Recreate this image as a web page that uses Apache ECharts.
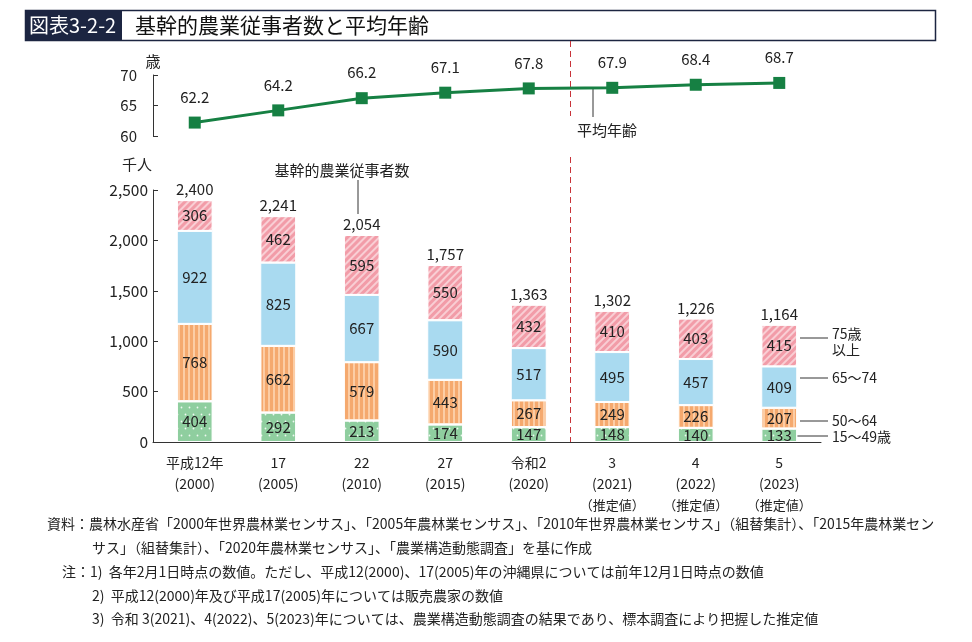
<!DOCTYPE html>
<html><head><meta charset="utf-8">
<script src="https://cdn.jsdelivr.net/npm/echarts@6/dist/echarts.min.js"></script>
<style>html,body{margin:0;padding:0;background:#fff}#c{width:972px;height:642px}</style>
</head><body><div id="c"></div>
<script>
const categories = ['平成12年','17','22','27','令和2','3','4','5'];
const years = ['(2000)','(2005)','(2010)','(2015)','(2020)','(2021)','(2022)','(2023)'];
const estimated = [false,false,false,false,false,true,true,true];
const avgAge = [62.2,64.2,66.2,67.1,67.8,67.9,68.4,68.7];
const age15_49 = [404,292,213,174,147,148,140,133];
const age50_64 = [768,662,579,443,267,249,226,207];
const age65_74 = [922,825,667,590,517,495,457,409];
const age75up = [306,462,595,550,432,410,403,415];
const totals = [2400,2241,2054,1757,1363,1302,1226,1164];

const FONT = '"Noto Sans CJK JP", "Noto Sans", sans-serif';
const TXT = '#222';
const chart = echarts.init(document.getElementById('c'));

function segLabel(){ return {show:true, position:'inside', fontSize:15, color:TXT, fontFamily:FONT}; }

const option = {
  animation:false,
  textStyle:{fontFamily:FONT, color:TXT},
  grid:[
    {left:153, width:668, top:75, height:61},
    {left:153, width:668, top:190, height:252}
  ],
  xAxis:[
    {type:'category', gridIndex:0, data:categories, show:false, boundaryGap:true},
    {type:'category', gridIndex:1, data:categories, boundaryGap:true,
     axisLine:{lineStyle:{color:'#333', width:1}}, axisTick:{show:false},
     axisLabel:{margin:10, interval:0, formatter:function(v,i){
        let s = '{a|'+v+'}\n{a|'+years[i]+'}';
        if (estimated[i]) s += '\n{b|（推定値）}';
        return s;
     }, rich:{a:{fontSize:14, lineHeight:21, color:TXT, fontFamily:FONT}, b:{fontSize:13, lineHeight:23, color:TXT, fontFamily:FONT}}}}
  ],
  yAxis:[
    {type:'value', gridIndex:0, min:60, max:70, interval:5,
     axisLine:{show:true, lineStyle:{color:'#333'}}, axisTick:{show:true, inside:true, length:5, lineStyle:{color:'#333'}},
     splitLine:{show:false}, axisLabel:{fontSize:15, color:TXT, margin:16}},
    {type:'value', gridIndex:1, min:0, max:2500, interval:500,
     axisLine:{show:true, lineStyle:{color:'#333'}}, axisTick:{show:true, inside:true, length:5, lineStyle:{color:'#333'}},
     splitLine:{show:false}, axisLabel:{fontSize:15.5, color:TXT, margin:5, formatter:function(v){return v.toLocaleString('en-US');}}}
  ],
  series:[
    {type:'line', xAxisIndex:0, yAxisIndex:0, data:avgAge, symbol:'rect', symbolSize:12,
     lineStyle:{color:'#168043', width:3}, itemStyle:{color:'#168043'},
     label:{show:true, position:'top', distance:12, fontSize:15, color:TXT, formatter:function(p){return p.value.toFixed(1);}}},
    {name:'15～49歳', type:'bar', stack:'t', xAxisIndex:1, yAxisIndex:1, data:age15_49, barWidth:36,
     itemStyle:{color:'#8fce9f', borderColor:'#fff', borderWidth:1,
       decal:{symbol:'circle', symbolSize:0.6, dashArrayX:[[3,5],[0,4,3,1]], dashArrayY:[3,4], color:'rgba(255,255,255,0.85)'}},
     label:segLabel()},
    {name:'50～64', type:'bar', stack:'t', xAxisIndex:1, yAxisIndex:1, data:age50_64, barWidth:36,
     itemStyle:{color:'#f5a96e', borderColor:'#fff', borderWidth:1,
       decal:{symbol:'rect', symbolSize:1, dashArrayX:[1,0], dashArrayY:[2,3], rotation:Math.PI/2, color:'rgba(255,225,195,0.65)'}},
     label:segLabel()},
    {name:'65～74', type:'bar', stack:'t', xAxisIndex:1, yAxisIndex:1, data:age65_74, barWidth:36,
     itemStyle:{color:'#a9daf0', borderColor:'#fff', borderWidth:1},
     label:segLabel()},
    {name:'75歳以上', type:'bar', stack:'t', xAxisIndex:1, yAxisIndex:1, data:age75up, barWidth:36,
     itemStyle:{color:'#f29ca8', borderColor:'#fff', borderWidth:1,
       decal:{symbol:'rect', symbolSize:1, dashArrayX:[1,0], dashArrayY:[2,3], rotation:-Math.PI/4, color:'rgba(255,255,255,0.5)'}},
     label:segLabel()},
    {name:'total', type:'bar', stack:'t', xAxisIndex:1, yAxisIndex:1, data:totals.map(function(){return 0;}), barWidth:36,
     itemStyle:{color:'rgba(0,0,0,0)'},
     label:{show:true, position:'top', distance:3, fontSize:15, color:TXT, formatter:function(p){return totals[p.dataIndex].toLocaleString('en-US');}}}
  ]
};
chart.setOption(option);

// layout overlays
const x4 = chart.convertToPixel({xAxisIndex:1}, 4);
const x5 = chart.convertToPixel({xAxisIndex:1}, 5);
const xs = (x4 + x5) / 2;
const yBase = chart.convertToPixel({yAxisIndex:1}, 0);
const red = '#c8333a';
const lineC = '#333';
const g = [
  {type:'rect', shape:{x:25.5, y:10.5, width:910, height:30}, style:{fill:'none', stroke:'#1c2541', lineWidth:1.5}},
  {type:'rect', shape:{x:25, y:10, width:97, height:31}, style:{fill:'#1c2541'}},
  {type:'text', x:29, y:25, style:{text:'図表3-2-2', fill:'#fff', font:'20px '+FONT, textVerticalAlign:'middle'}},
  {type:'text', x:135, y:25, style:{text:'基幹的農業従事者数と平均年齢', fill:'#111', font:'21px '+FONT, textVerticalAlign:'middle'}},
  {type:'line', shape:{x1:xs, y1:41, x2:xs, y2:116}, style:{stroke:red, lineWidth:1, lineDash:[6,4]}},
  {type:'line', shape:{x1:xs, y1:157, x2:xs, y2:yBase}, style:{stroke:red, lineWidth:1, lineDash:[6,4]}},
  {type:'text', x:153, y:61, style:{text:'歳', fill:TXT, font:'15px '+FONT, textAlign:'center', textVerticalAlign:'middle'}},
  {type:'text', x:137, y:164, style:{text:'千人', fill:TXT, font:'15px '+FONT, textAlign:'center', textVerticalAlign:'middle'}},
  {type:'text', x:342, y:170, style:{text:'基幹的農業従事者数', fill:TXT, font:'15px '+FONT, textAlign:'center', textVerticalAlign:'middle'}},
  {type:'line', shape:{x1:358, y1:180, x2:358, y2:214}, style:{stroke:lineC, lineWidth:1}},
  {type:'text', x:577, y:130, style:{text:'平均年齢', fill:TXT, font:'15px '+FONT, textVerticalAlign:'middle'}},
  {type:'line', shape:{x1:593, y1:89, x2:593, y2:117}, style:{stroke:lineC, lineWidth:1}},
  {type:'line', shape:{x1:800, y1:338, x2:828, y2:338}, style:{stroke:lineC, lineWidth:1}},
  {type:'text', x:832, y:334, style:{text:'75歳', fill:TXT, font:'14px '+FONT, textVerticalAlign:'middle'}},
  {type:'text', x:832, y:350, style:{text:'以上', fill:TXT, font:'14px '+FONT, textVerticalAlign:'middle'}},
  {type:'line', shape:{x1:800, y1:378, x2:828, y2:378}, style:{stroke:lineC, lineWidth:1}},
  {type:'text', x:832, y:378, style:{text:'65～74', fill:TXT, font:'14px '+FONT, textVerticalAlign:'middle'}},
  {type:'line', shape:{x1:800, y1:421, x2:828, y2:421}, style:{stroke:lineC, lineWidth:1}},
  {type:'text', x:832, y:421, style:{text:'50～64', fill:TXT, font:'14px '+FONT, textVerticalAlign:'middle'}},
  {type:'line', shape:{x1:797, y1:436, x2:828, y2:436}, style:{stroke:lineC, lineWidth:1}},
  {type:'text', x:832, y:437, style:{text:'15～49歳', fill:TXT, font:'14px '+FONT, textVerticalAlign:'middle'}}
];
const notes = [
  [47, 524, '資料：農林水産省「2000年世界農林業センサス」、「2005年農林業センサス」、「2010年世界農林業センサス」（組替集計）、「2015年農林業セン'],
  [92, 548, 'サス」（組替集計）、「2020年農林業センサス」、「農業構造動態調査」を基に作成'],
  [62, 572, '注：1)  各年2月1日時点の数値。ただし、平成12(2000)、17(2005)年の沖縄県については前年12月1日時点の数値'],
  [92, 596, '2)  平成12(2000)年及び平成17(2005)年については販売農家の数値'],
  [92, 619, '3)  令和 3(2021)、4(2022)、5(2023)年については、農業構造動態調査の結果であり、標本調査により把握した推定値']
];
notes.forEach(function(n){
  g.push({type:'text', x:n[0], y:n[1], style:{text:n[2], fill:TXT, font:'14px '+FONT, textVerticalAlign:'middle'}});
});
chart.setOption({graphic:g});
</script></body></html>
